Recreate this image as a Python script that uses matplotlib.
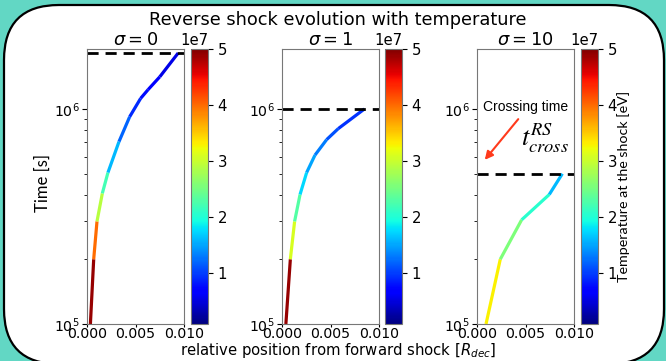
import numpy as np
import matplotlib
matplotlib.use('Agg')
import matplotlib.pyplot as plt
from matplotlib.collections import LineCollection
from matplotlib.colors import Normalize
from matplotlib.patches import FancyBboxPatch, FancyArrowPatch
from matplotlib.ticker import FormatStrFormatter, NullFormatter

# magnetisation of each run
sigmas = [0, 1, 10]

# reverse shock position (relative to forward shock, in R_dec) and time [s]
pos_s0 = [0.00035, 0.00069, 0.00103, 0.00158, 0.00216, 0.0033, 0.0044, 0.00553, 0.0063, 0.0075, 0.0094]
time_s0 = [1.0e5, 2.0e5, 3.0e5, 4.05e5, 5.06e5, 7.05e5, 9.2e5, 1.12e6, 1.23e6, 1.41e6, 1.82e6]
temp_s0 = [4.9e7, 4.0e7, 2.9e7, 2.2e7, 1.6e7, 1.2e7, 0.9e7, 0.75e7, 0.65e7, 0.55e7]

pos_s1 = [0.0004, 0.00086, 0.0013, 0.00186, 0.00254, 0.0034, 0.0046, 0.0058, 0.0085]
time_s1 = [1.0e5, 2.0e5, 3.0e5, 4.0e5, 5.06e5, 6.1e5, 7.2e5, 8.1e5, 1.0e6]
temp_s1 = [4.9e7, 3.1e7, 2.3e7, 1.75e7, 1.5e7, 1.3e7, 1.1e7, 0.95e7]

pos_s10 = [0.00093, 0.0024, 0.0046, 0.00745, 0.0088]
time_s10 = [1.0e5, 2.0e5, 3.05e5, 4.0e5, 5.0e5]
temp_s10 = [3.3e7, 2.55e7, 2.05e7, 1.6e7]

# crossing time of the reverse shock
t_cross = [1.82e6, 1.0e6, 5.0e5]

positions = [pos_s0, pos_s1, pos_s10]
times = [time_s0, time_s1, time_s10]
temps = [temp_s0, temp_s1, temp_s10]

T_MIN, T_MAX = 0.09e7, 5.0e7

W, H = 666, 361
fig = plt.figure(figsize=(W / 100, H / 100), dpi=100)
fig.patch.set_facecolor('#62d7c4')

# white rounded card behind everything
card = FancyBboxPatch((0.04, -0.03), 6.60, 3.59,
                      boxstyle='round,pad=0,rounding_size=0.55',
                      transform=fig.dpi_scale_trans,
                      fc='white', ec='black', lw=1.6, zorder=-10)
fig.patches.append(card)

ax_left = [87, 282, 477]
cb_left = [191, 385, 581]
bottom, height = 37, 275

norm = Normalize(vmin=T_MIN, vmax=T_MAX)

for i in range(3):
    ax = fig.add_axes([ax_left[i] / W, bottom / H, 97 / W, height / H])
    cax = fig.add_axes([cb_left[i] / W, bottom / H, 17 / W, height / H])

    x = np.array(positions[i])
    y = np.array(times[i])
    pts = np.column_stack([x, y]).reshape(-1, 1, 2)
    segs = np.concatenate([pts[:-1], pts[1:]], axis=1)
    lc = LineCollection(segs, cmap='jet', norm=norm, linewidths=2.3)
    lc.set_array(np.array(temps[i]))
    ax.add_collection(lc)

    ax.axhline(t_cross[i], color='black', ls='--', lw=2, dashes=(4, 2.5))

    ax.set_yscale('log')
    ax.set_ylim(1e5, 1.9e6)
    ax.set_xlim(0, 0.01)
    ax.set_xticks([0, 0.005, 0.01])
    ax.xaxis.set_major_formatter(FormatStrFormatter('%.3f'))
    ax.yaxis.set_minor_formatter(NullFormatter())
    ax.tick_params(axis='y', labelsize=10.2, pad=2)
    ax.tick_params(axis='x', labelsize=10.2, pad=0, length=2)
    for sp in ax.spines.values():
        sp.set_color('#777777')
    ax.set_title(r'$\sigma = %d$' % sigmas[i], fontsize=12.8, pad=3)

    cb = fig.colorbar(lc, cax=cax)
    cb.set_ticks([1e7, 2e7, 3e7, 4e7, 5e7])
    cb.ax.tick_params(labelsize=10.7)
    cb.ax.yaxis.get_offset_text().set_fontsize(10.7)
    cb.outline.set_edgecolor('#777777')

fig.text(338 / W, 1 - 20 / H, 'Reverse shock evolution with temperature',
         ha='center', va='center', fontsize=12.8)
fig.text(338 / W, 1 - 351 / H, r'relative position from forward shock [$R_{dec}$]',
         ha='center', va='center', fontsize=10.7)
fig.text(43 / W, 1 - 183 / H, 'Time [s]', rotation=90, ha='center', va='center',
         fontsize=12, family='Lato')
fig.text(624 / W, 1 - 186 / H, 'Temperature at the shock [eV]', rotation=90,
         ha='center', va='center', fontsize=10.3, family='Lato')

# crossing time annotation
fig.text(526 / W, 1 - 107 / H, 'Crossing time', ha='center', va='center',
         fontsize=10, family='Liberation Sans')
fig.text(545 / W, 1 - 138 / H, r'$t^{RS}_{cross}$', ha='center', va='center',
         fontsize=19, math_fontfamily='stix')
fig.add_artist(FancyArrowPatch(
    (520 / W, 1 - 117 / H), (483 / W, 1 - 162 / H),
    transform=fig.transFigure, arrowstyle='-|>', mutation_scale=12,
    color='#ff3a1c', lw=1.5))

fig.savefig('out.png', dpi=100)
